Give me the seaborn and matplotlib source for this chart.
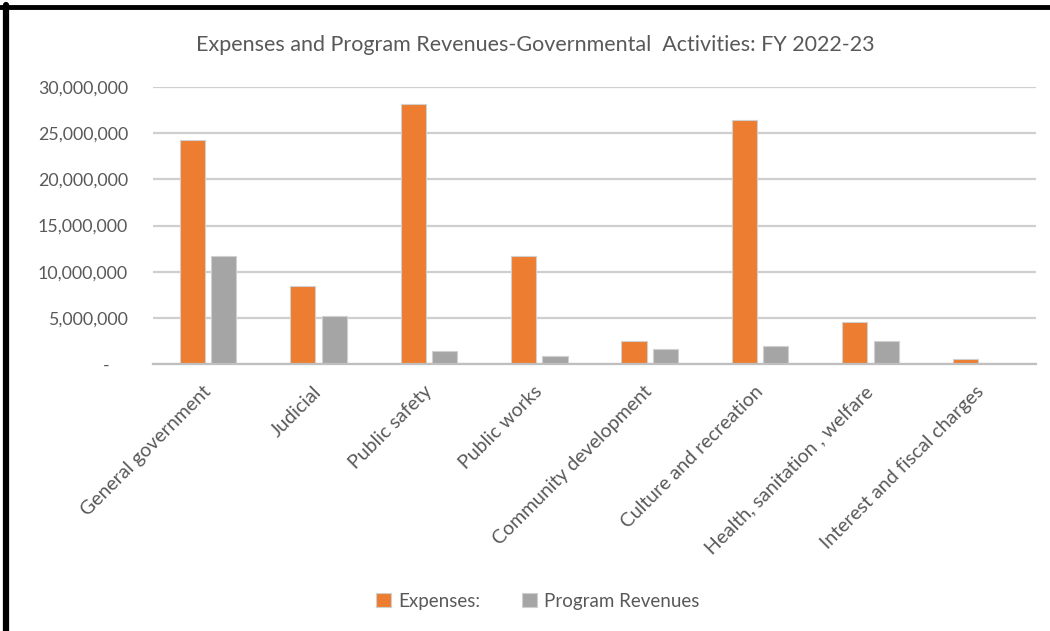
import numpy as np
import pandas as pd
import seaborn as sns
import matplotlib.pyplot as plt
from matplotlib.lines import Line2D
from matplotlib.ticker import FuncFormatter

# Data
categories = ['General government', 'Judicial', 'Public safety', 'Public works',
              'Community development', 'Culture and recreation',
              'Health, sanitation , welfare', 'Interest and fiscal charges']
expenses = [24300000, 8400000, 28150000, 11700000, 2450000, 26450000, 4550000, 550000]
program_revenues = [11700000, 5200000, 1450000, 850000, 1600000, 1950000, 2450000, 0]
series_names = ['Expenses:', 'Program Revenues']
y_ticks = [0, 5000000, 10000000, 15000000, 20000000, 25000000, 30000000]

df = pd.DataFrame({'category': categories * 2,
                   'series': [series_names[0]] * len(categories) + [series_names[1]] * len(categories),
                   'value': expenses + program_revenues})

sns.set_style('white')
plt.rcParams['font.family'] = ['Lato', 'DejaVu Sans']
text_color = '#595959'

fig = plt.figure(figsize=(10.5, 6.31), dpi=100)
ax = fig.add_axes([0.1457, 0.4231, 0.841, 0.4389])

sns.barplot(data=df, x='category', y='value', hue='series', order=categories,
            hue_order=series_names, palette=['#ED7D31', '#A5A5A5'], saturation=1,
            width=0.57, gap=0.2, edgecolor='#d0d0d0', linewidth=0.8,
            legend=True, ax=ax)

ax.set_ylim(0, 30000000)
ax.set_xlim(-0.5, len(categories) - 0.5)
ax.set_yticks(y_ticks)
ax.yaxis.set_major_formatter(FuncFormatter(lambda v, p: '-    ' if v == 0 else f'{v:,.0f}'))
ax.yaxis.grid(True, color='#cfcfcf', linewidth=1.6)
ax.set_axisbelow(True)
for side in ['top', 'right', 'left']:
    ax.spines[side].set_visible(False)
ax.spines['bottom'].set_color('#bfbfbf')
ax.spines['bottom'].set_linewidth(1.6)
ax.tick_params(length=0, colors=text_color)
ax.tick_params(axis='y', pad=18, labelsize=12.8)
ax.tick_params(axis='x', pad=18, labelsize=14)
ax.set_xlabel('')
ax.set_ylabel('')
plt.setp(ax.get_xticklabels(), rotation=45, ha='right', va='center', rotation_mode='anchor')

fig.text(0.51, 0.929, 'Expenses and Program Revenues-Governmental  Activities: FY 2022-23',
         ha='center', va='center', color=text_color, fontsize=15.5)

leg = ax.legend(loc='center', bbox_to_anchor=(0.436, -0.856), ncol=2, frameon=False,
                fontsize=13.5, handlelength=0.8, handleheight=0.8, columnspacing=2.2,
                handletextpad=0.4)
for t in leg.get_texts():
    t.set_color(text_color)

# frame edges (top and left) of the original screenshot
fig.add_artist(Line2D([0, 1], [1 - 7 / 631, 1 - 7 / 631], color='black', linewidth=3.5))
fig.add_artist(Line2D([6 / 1050, 6 / 1050], [0, 1 - 5 / 631], color='black', linewidth=4.5))

fig.savefig('out.png', dpi=100)
